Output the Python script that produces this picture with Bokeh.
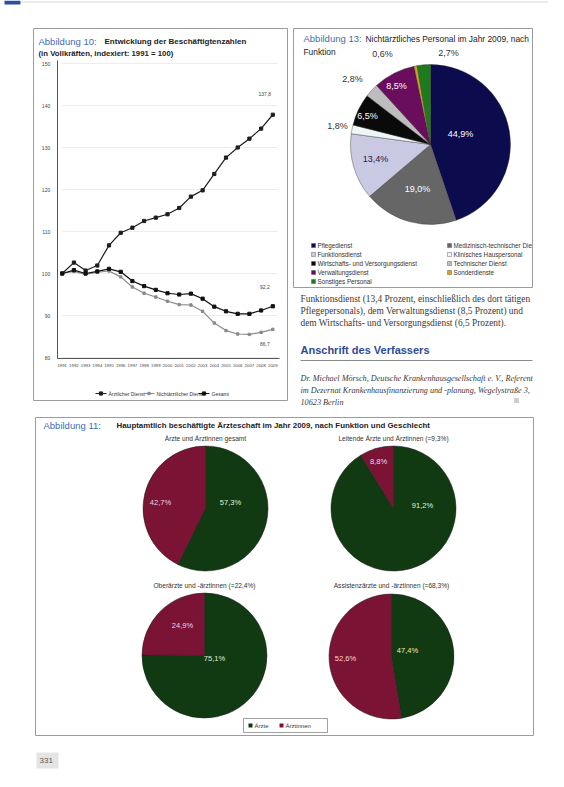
import math
from bokeh.plotting import figure
from bokeh.models import Range1d, ColumnDataSource
from bokeh.embed import file_html
from bokeh.resources import INLINE
from bokeh.core.properties import value

# ---------------- data ----------------
years = list(range(1991, 2010))
aerzte_idx = [100.0, 102.6, 100.7, 101.9, 106.7, 109.7, 110.9, 112.5, 113.3, 114.1,
              115.6, 118.3, 119.8, 123.7, 127.6, 130.0, 132.1, 134.5, 137.8]
nichtaerzte_idx = [100.0, 100.5, 99.8, 100.3, 100.6, 99.2, 96.8, 95.3, 94.4, 93.4,
                   92.6, 92.5, 91.0, 88.2, 86.4, 85.6, 85.5, 86.0, 86.7]
gesamt_idx = [100.0, 100.8, 100.0, 100.5, 101.1, 100.4, 98.2, 97.0, 96.1, 95.3,
              95.0, 95.2, 94.0, 92.1, 91.0, 90.4, 90.4, 91.2, 92.2]
idx_ticks = [80, 90, 100, 110, 120, 130, 140, 150]
line_series = ["Ärztlicher Dienst", "Nichtärztlicher Dienst", "Gesamt"]
end_labels = ["137,8", "86,7", "92,2"]

pers_functions = ["Pflegedienst", "Medizinisch-technischer Dienst", "Funktionsdienst",
                  "Klinisches Hauspersonal", "Wirtschafts- und Versorgungsdienst",
                  "Technischer Dienst", "Verwaltungsdienst", "Sonderdienste",
                  "Sonstiges Personal"]
pers_shares = [44.9, 19.0, 13.4, 1.8, 6.5, 2.8, 8.5, 0.6, 2.7]

aerzte_groups = ["Ärzte und Ärztinnen gesamt", "Leitende Ärzte und Ärztinnen (=9,3%)",
                 "Oberärzte und -ärztinnen (=22,4%)", "Assistenzärzte und -ärztinnen (=68,3%)"]
share_maenner = [57.3, 91.2, 75.1, 47.4]
share_frauen = [42.7, 8.8, 24.9, 52.6]
sex_labels = ["Ärzte", "Ärztinnen"]

# ---------------- layout / style ----------------
SANS = "Liberation Sans"
SERIF = "Liberation Serif"
BLUE = "#3f6ab4"
INK = "#222222"
W, H = 548, 771

p = figure(width=W, height=H, x_range=Range1d(0, W), y_range=Range1d(H, 0),
           output_backend="svg", toolbar_location=None, min_border=0,
           x_axis_location=None, y_axis_location=None)
p.grid.visible = False
p.outline_line_color = None
p.background_fill_color = "white"
p.border_fill_color = "white"


def txt(x, y, s, size, color=INK, style="normal", align="left", font=SANS, baseline="middle"):
    p.text(x=[x], y=[y], text=[s], text_font=value(font), text_font_size=f"{size}px",
           text_color=color, text_font_style=style, text_align=align, text_baseline=baseline)


def fmt(v):
    return f"{v:.1f}".replace(".", ",") + "%"


# ---- page head strip ----
p.quad(left=[4], right=[20], top=[0], bottom=[4], fill_color="#2b4fa0", line_color=None)
p.line([20, 548], [1.5, 1.5], line_color="#d8d8d8", line_width=1)

# ---- boxes ----
p.quad(left=[33, 293, 35], right=[287, 532, 533], top=[28, 28, 417], bottom=[400, 287, 735],
       fill_color="white", line_color="#9c9c9c", line_width=1)

# ================= Abbildung 10: line chart =================
txt(38, 41, "Abbildung 10:", 9.5, BLUE)
txt(104, 41, "Entwicklung der Beschäftigtenzahlen", 8, INK, "bold")
txt(38, 53, "(in Vollkräften, indexiert: 1991 = 100)", 7.8, INK, "bold")

X0, X1, Y100, PX10 = 61.7, 272.3, 273.0, 42.0
ppy = (X1 - X0) / (years[-1] - years[0])
ppu = PX10 / 10.0
p.extra_x_ranges = {"yr": Range1d(years[0] - X0 / ppy, years[0] + (W - X0) / ppy)}
p.extra_y_ranges = {"ix": Range1d(100 - (H - Y100) / ppu, 100 + Y100 / ppu)}

# light grid + axes
p.segment(x0=[years[0]] * len(idx_ticks), x1=[years[-1] + 0.4] * len(idx_ticks), y0=idx_ticks,
          y1=idx_ticks, x_range_name="yr", y_range_name="ix", line_color="#ececec", line_width=1)
p.line([57, 57], [60, 358], line_color="#555555", line_width=1)
p.line([57, 279], [358, 358], line_color="#555555", line_width=1)

p.text(x=[years[0]] * len(idx_ticks), y=idx_ticks, text=[str(t) for t in idx_ticks],
       x_range_name="yr", y_range_name="ix", x_offset=-12, text_align="right",
       text_baseline="middle", text_font=value(SANS), text_font_size="5px", text_color="#444")
p.text(x=years, y=[idx_ticks[0]] * len(years), text=[str(y) for y in years],
       x_range_name="yr", y_range_name="ix", y_offset=8, text_align="center",
       text_baseline="middle", text_font=value(SANS), text_font_size="4.3px", text_color="#444")

series_vals = [aerzte_idx, nichtaerzte_idx, gesamt_idx]
series_cols = ["#1e1e1e", "#8a8a8a", "#111111"]
series_msize = [3.2, 2.4, 3.2]
for vals, col, ms in zip(series_vals, series_cols, series_msize):
    p.line(years, vals, x_range_name="yr", y_range_name="ix", line_color=col, line_width=1.2)
    p.scatter(years, vals, x_range_name="yr", y_range_name="ix", marker="square", size=ms,
              fill_color=col, line_color=col)

src_end = ColumnDataSource(dict(x=[years[-1]] * 3, y=[v[-1] for v in series_vals], t=end_labels,
                                dy=[-21, 15, -19]))
p.text(x="x", y="y", text="t", source=src_end, x_range_name="yr", y_range_name="ix",
       x_offset=-8, y_offset="dy", text_align="center", text_baseline="middle",
       text_font=value(SANS), text_font_size="5px", text_color="#444")

# legend of line chart
leg_x = [95, 143, 198]
for lx, name, col, ms in zip(leg_x, line_series, series_cols, series_msize):
    p.line([lx, lx + 11], [393, 393], line_color=col, line_width=1)
    p.scatter([lx + 5.5], [393], marker="square", size=ms, fill_color=col, line_color=col)
    txt(lx + 13, 393, name, 5, "#333")

# ================= Abbildung 13: pie =================
txt(303, 38, "Abbildung 13:", 9.5, BLUE)
txt(365, 38, "Nichtärztliches Personal im Jahr 2009, nach", 8.4, INK)
txt(303, 51, "Funktion", 8.4, INK)

pie_cols = ["#0b0b4e", "#666666", "#c9c9e4", "#eef6f6", "#0a0a0a", "#bdbdbd",
            "#6a0d5c", "#d9a21a", "#1d7a1d"]
lbl_cols = ["white", "white", "#1a1a4a", "#333", "white", "#333", "white", "#333", "#333"]
lbl_dx = [30, -13, -55, -93, -63, -78, -34, -48, 18]
lbl_dy = [-11, 44, 14, -19, -29, -66, -59, -91, -92]
cx, cy, R = 430, 144, 80
tot = sum(pers_shares)
cum = [0.0]
for v in pers_shares:
    cum.append(cum[-1] + v / tot)
starts = [math.pi / 2 - 2 * math.pi * c for c in cum[:-1]]
ends = [math.pi / 2 - 2 * math.pi * c for c in cum[1:]]
p.wedge(x=[cx] * len(pers_shares), y=[cy] * len(pers_shares), radius=R, radius_units="screen",
        start_angle=starts, end_angle=ends, direction="clock", fill_color=pie_cols,
        line_color="#333333", line_width=0.4)
src13 = ColumnDataSource(dict(x=[cx + d for d in lbl_dx], y=[cy + d for d in lbl_dy],
                              t=[fmt(v) for v in pers_shares], c=lbl_cols))
p.text(x="x", y="y", text="t", text_color="c", source=src13, text_align="center",
       text_baseline="middle", text_font=value(SANS), text_font_size="9px")

for i, (name, col) in enumerate(zip(pers_functions, pie_cols)):
    lx = 313 if i % 2 == 0 else 449
    ly = 245 + 9 * (i // 2)
    p.rect([lx], [ly], width=4, height=4, fill_color=col, line_color="#444", line_width=0.4)
    txt(lx + 4, ly, name, 6.3, "#333")
# legend text clipped by the frame on the right
p.quad(left=[532.5], right=[548], top=[235], bottom=[290], fill_color="white", line_color=None)
p.line([532, 532], [28, 287], line_color="#9c9c9c", line_width=1)

# ================= text column =================
para = ["Funktionsdienst (13,4 Prozent, einschließlich des dort tätigen",
        "Pflegepersonals), dem Verwaltungsdienst (8,5 Prozent) und",
        "dem Wirtschafts- und Versorgungsdienst (6,5 Prozent)."]
for k, s in enumerate(para):
    txt(300, 298 + 12 * k, s, 9.4, "#3a3a3a", font=SERIF)
txt(300, 349, "Anschrift des Verfassers", 11, "#2e4a98", "bold")
p.line([300, 532], [360, 360], line_color="#8a8a8a", line_width=1)
addr = ["Dr. Michael Mörsch, Deutsche Krankenhausgesellschaft e. V., Referent",
        "im Dezernat Krankenhausfinanzierung und -planung, Wegelystraße 3,",
        "10623 Berlin"]
for k, s in enumerate(addr):
    txt(300, 378 + 12 * k, s, 8.2, "#3a3a3a", "italic", font=SERIF)
p.rect([516], [400], width=5, height=5, fill_color="#cfcfcf", line_color=None)

# ================= Abbildung 11: four pies =================
txt(43, 425, "Abbildung 11:", 9.5, BLUE)
txt(116, 425, "Hauptamtlich beschäftigte Ärzteschaft im Jahr 2009, nach Funktion und Geschlecht", 7.9, INK, "bold")

GREEN, MAROON = "#123a12", "#7b1434"
centers = [(205, 508), (393, 508), (204, 655), (391, 656)]
R2 = 62.5
title_y = [438, 438, 585, 585]
lab_off_m = [(25, -6), (29, -3), (10, 3), (16, -6)]
lab_off_w = [(-45, -6), (-15, -47), (-22, -30), (-46, 2)]
for (px, py), tname, m, w, ty, om, ow in zip(centers, aerzte_groups, share_maenner, share_frauen,
                                              title_y, lab_off_m, lab_off_w):
    t = m + w
    a0 = math.pi / 2
    a1 = a0 - 2 * math.pi * m / t
    a2 = a1 - 2 * math.pi * w / t
    p.wedge(x=[px, px], y=[py, py], radius=R2, radius_units="screen", start_angle=[a0, a1],
            end_angle=[a1, a2], direction="clock", fill_color=[GREEN, MAROON],
            line_color="#1a1a1a", line_width=0.5)
    txt(px, ty, tname, 6.6, "#333", align="center")
    txt(px + om[0], py + om[1], fmt(m), 7.5, "#e6eec8", align="center")
    txt(px + ow[0], py + ow[1], fmt(w), 7.5, "#f5d2de", align="center")

p.quad(left=[243], right=[327], top=[718], bottom=[732], fill_color="white",
       line_color="#888", line_width=0.8)
for lx, name, col in zip([250, 281], sex_labels, [GREEN, MAROON]):
    p.rect([lx], [725], width=4, height=4, fill_color=col, line_color=None)
    txt(lx + 4, 725, name, 6, "#333")

# page number
p.quad(left=[36], right=[58], top=[752], bottom=[768], fill_color="#e4e4e4", line_color=None)
txt(39, 760, "331", 8, "#555")

open("out.html", "w").write(file_html(p, INLINE))
